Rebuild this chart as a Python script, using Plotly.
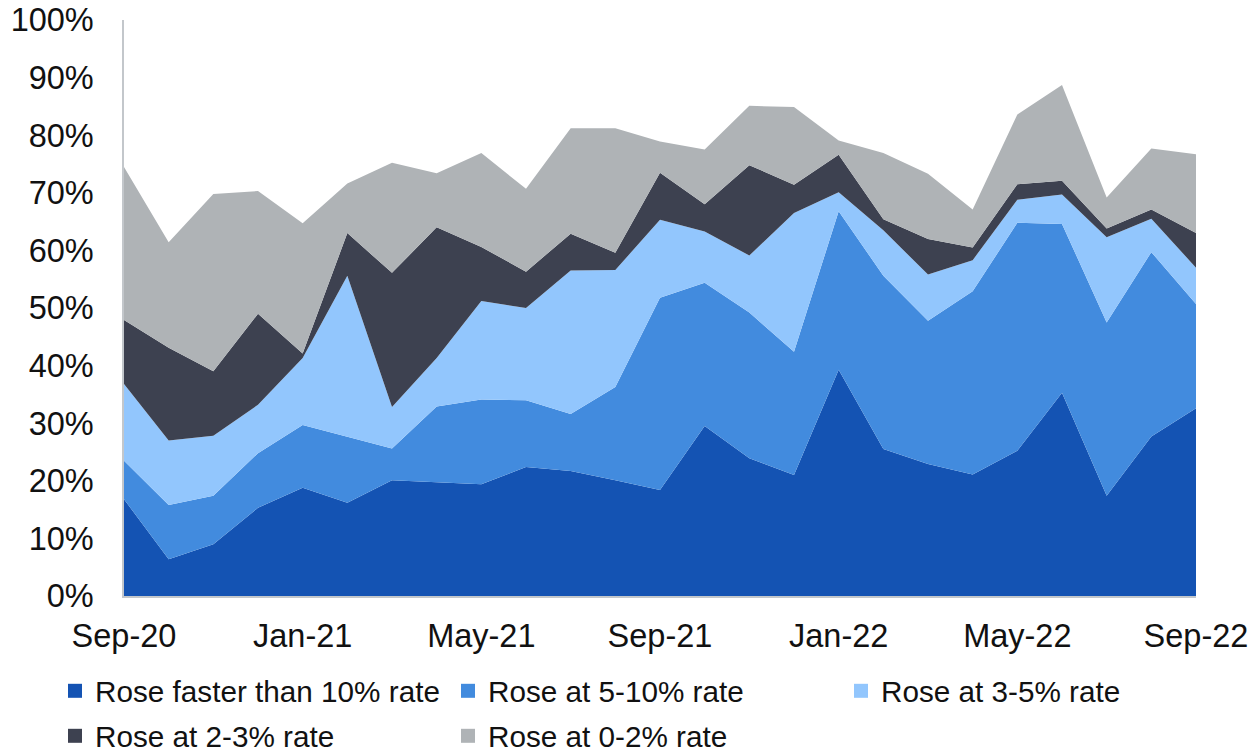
import plotly.graph_objects as go

months = ["Sep-20", "Oct-20", "Nov-20", "Dec-20", "Jan-21", "Feb-21", "Mar-21", "Apr-21",
          "May-21", "Jun-21", "Jul-21", "Aug-21", "Sep-21", "Oct-21", "Nov-21", "Dec-21",
          "Jan-22", "Feb-22", "Mar-22", "Apr-22", "May-22", "Jun-22", "Jul-22", "Aug-22",
          "Sep-22"]

tick_labels = ["Sep-20", "Jan-21", "May-21", "Sep-21", "Jan-22", "May-22", "Sep-22"]
y_ticks = [0, 10, 20, 30, 40, 50, 60, 70, 80, 90, 100]
y_tick_labels = ["0%", "10%", "20%", "30%", "40%", "50%", "60%", "70%", "80%", "90%", "100%"]

rose_over_10 = [16.8, 6.4, 9.0, 15.3, 18.8, 16.2, 20.1, 19.8, 19.4, 22.4, 21.7, 20.1, 18.4,
                29.5, 23.9, 21.0, 39.3, 25.5, 22.9, 21.1, 25.2, 35.3, 17.4, 27.7, 32.6]
rose_5_10 = [6.7, 9.4, 8.4, 9.5, 10.9, 11.5, 5.5, 13.1, 14.7, 11.6, 9.9, 16.2, 33.4,
             24.9, 25.3, 21.4, 27.5, 30.1, 24.9, 31.8, 39.6, 29.3, 30.1, 32.0, 18.1]
rose_3_5 = [13.3, 11.2, 10.4, 8.4, 11.6, 27.9, 7.2, 8.4, 17.1, 16.0, 24.9, 20.3, 13.5,
            8.9, 9.9, 24.1, 3.3, 7.9, 8.0, 5.4, 4.0, 5.1, 14.8, 5.8, 6.3]
rose_2_3 = [11.1, 16.1, 11.2, 15.8, 0.8, 7.4, 23.3, 22.7, 9.4, 6.3, 6.4, 3.0, 8.2,
            4.7, 15.7, 4.9, 6.5, 1.9, 6.2, 2.2, 2.7, 2.4, 1.5, 1.6, 6.0]
rose_0_2 = [26.6, 18.3, 30.8, 21.3, 22.6, 8.6, 19.1, 9.4, 16.3, 14.4, 18.3, 21.6, 5.4,
            9.5, 10.3, 13.5, 2.5, 11.5, 11.3, 6.6, 12.1, 16.6, 5.4, 10.6, 13.7]

series_names = ["Rose faster than 10% rate", "Rose at 5-10% rate", "Rose at 3-5% rate",
                "Rose at 2-3% rate", "Rose at 0-2% rate"]
series_values = [rose_over_10, rose_5_10, rose_3_5, rose_2_3, rose_0_2]
colors = ["#1453B3", "#428BDE", "#92C6FD", "#3D4150", "#AFB3B6"]
legend_ids = ["legend", "legend", "legend", "legend2", "legend2"]

FONT = "Arial, 'Liberation Sans', Helvetica, sans-serif"

fig = go.Figure()
for name, vals, col in zip(series_names, series_values, colors):
    fig.add_trace(go.Scatter(
        x=months, y=vals, name=name, mode="lines", stackgroup="one",
        line=dict(width=0, color=col), fillcolor=col, showlegend=False,
        hovertemplate="%{x}: %{y:.1f}%<extra>" + name + "</extra>",
    ))

# legend entries (square swatches)
for name, col, lg in zip(series_names, colors, legend_ids):
    fig.add_trace(go.Scatter(
        x=[None], y=[None], name=name, mode="markers",
        marker=dict(symbol="square", size=14, color=col),
        legend=lg, showlegend=True, hoverinfo="skip",
    ))

W, H = 1251, 751
L, R, T, B = 124, 55, 20, 155
pw = W - L - R
ph = H - T - B


def py(pix):
    return (H - B - pix) / ph


legend_common = dict(
    orientation="h", xanchor="left", yanchor="top", traceorder="normal",
    x=(55 - L) / pw, font=dict(family=FONT, size=29.7, color="#111111"),
    entrywidth=348, entrywidthmode="pixels", bgcolor="rgba(0,0,0,0)",
    borderwidth=0, itemclick=False, itemdoubleclick=False,
)

fig.update_layout(
    width=W, height=H,
    margin=dict(l=L, r=R, t=T, b=B, autoexpand=False),
    paper_bgcolor="white", plot_bgcolor="white",
    font=dict(family=FONT, size=32, color="#111111"),
    showlegend=True,
    legend=dict(**legend_common, y=py(665)),
    legend2=dict(**legend_common, y=py(710)),
    xaxis=dict(
        type="category", range=[0, len(months) - 1],
        tickmode="array", tickvals=tick_labels, ticktext=tick_labels,
        showgrid=False, zeroline=False, showline=True, linecolor="#C3C7CB", linewidth=1.5,
        ticks="", ticklabelstandoff=10,
        tickfont=dict(family=FONT, size=32.5, color="#111111"),
    ),
    yaxis=dict(
        range=[0, 100], tickmode="array", tickvals=y_ticks, ticktext=y_tick_labels,
        showgrid=False, zeroline=False,
        showline=True, linecolor="#C3C7CB", linewidth=1.5,
        ticks="", ticklabelstandoff=22,
        tickfont=dict(family=FONT, size=32.5, color="#111111"),
    ),
)

fig.write_html("out.html")
